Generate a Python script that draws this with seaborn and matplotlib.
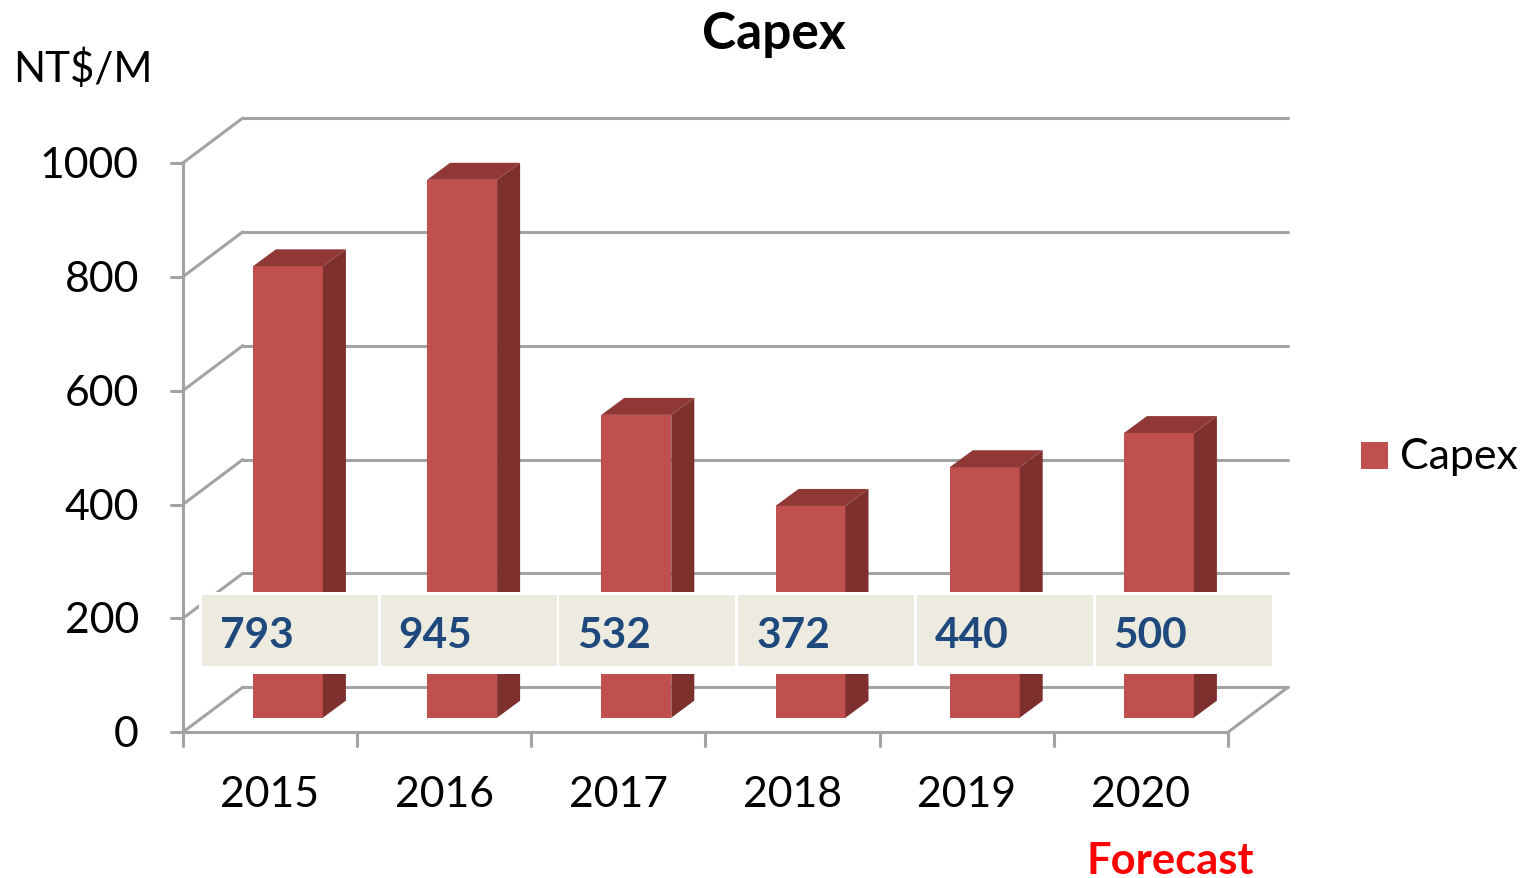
import matplotlib
matplotlib.use("Agg")
import matplotlib.pyplot as plt
from matplotlib.patches import Polygon, Rectangle
import pandas as pd
import seaborn as sns

years = ["2015", "2016", "2017", "2018", "2019", "2020"]
capex = [793, 945, 532, 372, 440, 500]
y_ticks = [0, 200, 400, 600, 800, 1000]

W, H = 1527, 879
sns.set_theme(style="white")
plt.rcParams["font.family"] = ["Lato", "DejaVu Sans"]

fig = plt.figure(figsize=(W / 100, H / 100), dpi=100, facecolor="white")
L, R, B, T = 182.8, 1228, 733.2, 164
ax = fig.add_axes([L / W, 1 - B / H, (R - L) / W, (B - T) / H])

df = pd.DataFrame({"Year": years, "Capex": capex})
sx = (R - L) / 6.0      # pixels per category
sy = (B - T) / 1000.0   # pixels per value unit

sns.barplot(data=df, x="Year", y="Capex", ax=ax, color="#C0504D", saturation=1,
            width=70 / sx, zorder=3, linewidth=0, legend=False)
ax.set_xlim(-0.5, 5.5)
ax.set_ylim(0, 1000)
ax.axis("off")

GRID = "#A3A3A3"
dep_x, dep_y = 60 / sx, 45 / sy
x0, x1 = -0.5, 5.5
lw = 2.2
kw = dict(color=GRID, lw=lw, clip_on=False, solid_capstyle="round", zorder=1)
for v in y_ticks:
    ax.plot([x0, x0 + dep_x], [v, v + dep_y], **kw)
    ax.plot([x0 + dep_x, x1 + dep_x], [v + dep_y, v + dep_y], **kw)
    ax.plot([x0 - 12 / sx, x0], [v, v], **kw)
    ax.text(x0 - 44 / sx, v - 2 / sy - 2 / sy + 2 / sy, str(v), ha="right", va="center",
            fontsize=30.8, color="black", clip_on=False)
ax.plot([x0, x0], [0, 1000], **kw)
ax.plot([x0, x1], [0, 0], **kw)
ax.plot([x1, x1 + dep_x], [0, dep_y], **kw)
for i in range(len(years) + 1):
    ax.plot([x0 + i, x0 + i], [0, -14 / sy], **kw)
for i, y in enumerate(years):
    ax.text(i, -62 / sy, y, ha="center", va="center", fontsize=30.8,
            color="black", clip_on=False)

# shift the seaborn bars onto the floor and add the 3-D faces
shift_x, shift_y = 18 / sx, 14.5 / sy
bw_x, bw_y = 23 / sx, 17 / sy
for p in ax.patches[:len(capex)]:
    xa = p.get_x() + shift_x
    w = p.get_width()
    h = p.get_height()
    p.set_x(xa)
    p.set_y(shift_y)
    ax.add_patch(Polygon([(xa + w, shift_y), (xa + w + bw_x, shift_y + bw_y),
                          (xa + w + bw_x, shift_y + h + bw_y), (xa + w, shift_y + h)],
                         closed=True, fc="#7D302E", ec="none", zorder=3, clip_on=False))
    ax.add_patch(Polygon([(xa, shift_y + h), (xa + w, shift_y + h),
                          (xa + w + bw_x, shift_y + h + bw_y), (xa + bw_x, shift_y + h + bw_y)],
                         closed=True, fc="#8F3836", ec="none", zorder=3, clip_on=False))

# data-table strip
px = lambda x, y: (x / W, 1 - y / H)
fig.add_artist(Rectangle(px(199, 675), 1076 / W, 82 / H, transform=fig.transFigure,
                         fc="white", ec="none", zorder=5))
for i, v in enumerate(capex):
    cx = 202 + i * 178.7
    fig.add_artist(Rectangle(px(cx, 667), 176 / W, 71 / H, transform=fig.transFigure,
                             fc="#EDEBE0", ec="none", zorder=6))
    fig.text(*px(cx + 18, 636), str(v), ha="left", va="center", fontsize=30.5,
             fontweight="bold", color="#1F497D", zorder=7)

fig.text(*px(774, 35), "Capex", ha="center", va="center", fontsize=37, fontweight="bold", color="black")
fig.text(*px(13, 69), "NT$/M", ha="left", va="center", fontsize=30.3, color="black")
fig.text(*px(1170.5, 861), "Forecast", ha="center", va="center", fontsize=31.3, fontweight="bold", color="#FF0000")

# legend
fig.add_artist(Rectangle(px(1361, 470), 27 / W, 27 / H, transform=fig.transFigure, fc="#C0504D", ec="none"))
fig.text(*px(1400, 457), "Capex", ha="left", va="center", fontsize=31, color="black")

fig.savefig("out.png", dpi=100)
